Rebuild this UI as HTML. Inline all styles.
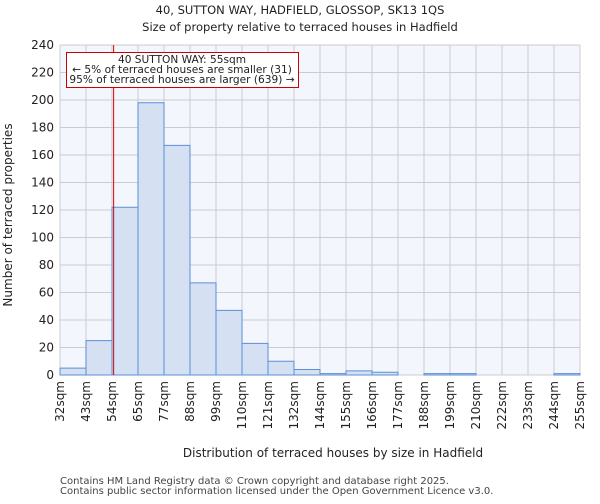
<!DOCTYPE html>
<html><head><meta charset="utf-8"><style>
body{margin:0;background:#fff;font-family:"DejaVu Sans","Liberation Sans",sans-serif}
</style></head><body>
<svg id="c" width="600" height="500" xmlns="http://www.w3.org/2000/svg" font-family="DejaVu Sans, Liberation Sans, sans-serif">
<text x="300" y="14" font-size="11.5" text-anchor="middle" fill="#222">40, SUTTON WAY, HADFIELD, GLOSSOP, SK13 1QS</text>
<text x="300" y="31" font-size="11.5" text-anchor="middle" fill="#222">Size of property relative to terraced houses in Hadfield</text>
<rect x="60" y="45" width="520" height="330" fill="#f3f6fd"/>
<g id="grid"></g><g id="bars"></g><g id="xt"></g><g id="yt"></g>
<text x="333" y="457" font-size="12" text-anchor="middle" fill="#222">Distribution of terraced houses by size in Hadfield</text>
<text transform="translate(12,215) rotate(-90)" font-size="12" text-anchor="middle" fill="#222">Number of terraced properties</text>
<text x="60" y="484" font-size="10" fill="#444">Contains HM Land Registry data © Crown copyright and database right 2025.</text>
<text x="60" y="494" font-size="10" fill="#444">Contains public sector information licensed under the Open Government Licence v3.0.</text>
</svg>
<script>
const categories=["32sqm","43sqm","54sqm","65sqm","77sqm","88sqm","99sqm","110sqm","121sqm","132sqm","144sqm","155sqm","166sqm","177sqm","188sqm","199sqm","210sqm","222sqm","233sqm","244sqm","255sqm"];
const counts=[5,25,122,198,167,67,47,23,10,4,1,3,2,0,1,1,0,0,0,1];
const yTicks=[0,20,40,60,80,100,120,140,160,180,200,220,240];
const markerSize=55, binStart=32, binWidth=11.15;
const ns="http://www.w3.org/2000/svg";
const X0=60,X1=580,Y0=375,Y1=45;
const bw=(X1-X0)/counts.length;
const xs=i=>X0+i*bw;
const ys=v=>Y0-(v/240)*(Y0-Y1);
function mk(t,a,p){const e=document.createElementNS(ns,t);for(const k in a)e.setAttribute(k,a[k]);p.appendChild(e);return e;}
const g=document.getElementById('grid'),b=document.getElementById('bars'),xt=document.getElementById('xt'),yt=document.getElementById('yt');
for(let i=0;i<=counts.length;i++){const l=mk('line',{x1:xs(i),x2:xs(i),y1:Y1,y2:Y0,stroke:'#ccc','stroke-width':1},g);

}
yTicks.forEach(v=>{const l=mk('line',{x1:X0,x2:X1,y1:ys(v),y2:ys(v),stroke:'#ccc','stroke-width':1},g);


const t=mk('text',{x:X0-6,y:ys(v)+4,'font-size':12,'text-anchor':'end',fill:'#222'},yt);t.textContent=v;

});
counts.forEach((v,i)=>{if(v<=0)return;const r=mk('rect',{x:xs(i),y:ys(v),width:bw,height:Y0-ys(v),fill:'#d6e0f3',stroke:'#5b8fd6','stroke-width':1},b);

});
categories.forEach((c,i)=>{const t=mk('text',{transform:`translate(${xs(i)+4},381) rotate(-90)`,'font-size':12,'text-anchor':'end',fill:'#222'},xt);t.textContent=c;

});
const mx=X0+(markerSize-binStart)/binWidth*bw;
const ml=mk('line',{x1:mx,x2:mx,y1:Y1,y2:Y0,stroke:'#d00','stroke-width':1},b);


const ann=mk('g',{},document.getElementById('c'));


mk('rect',{x:66.5,y:52.5,width:232,height:35,fill:'#fff',stroke:'#c00','stroke-width':1},ann);
[["40 SUTTON WAY: 55sqm",63],["← 5% of terraced houses are smaller (31)",73],["95% of terraced houses are larger (639) →",83]].forEach(([s,y])=>{const t=mk('text',{x:182,y:y,'font-size':10.6,'text-anchor':'middle',fill:'#222',textLength:y==63?'':'',},ann);t.textContent=s;});
</script>
</body></html>
